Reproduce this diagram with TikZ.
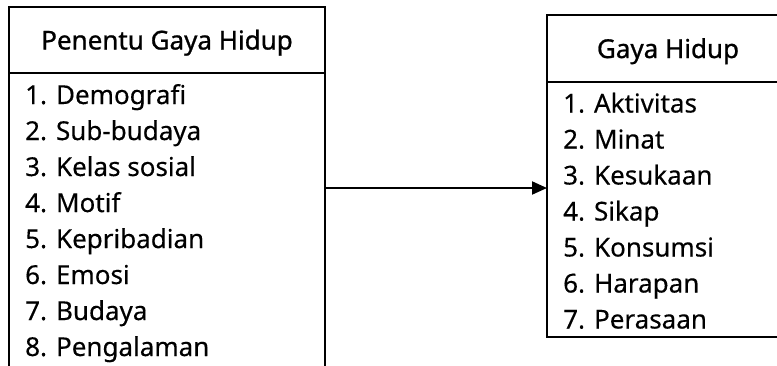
\documentclass[tikz,border=0pt]{standalone}
\usepackage{fontspec}
\setmainfont[FakeBold=0.3]{Noto Sans}
\newfontfamily\headfont[FakeBold=0.9]{Noto Sans}
\usetikzlibrary{arrows.meta}

\tikzset{
  box/.style={draw, line width=2bp, rectangle, inner sep=0pt, outer sep=0pt},
  head/.style={box, text height=19bp, text depth=0bp,
               font=\headfont\fontsize{26bp}{36bp}\selectfont},
  item/.style={anchor=base west, inner sep=0pt},
  link/.style={line width=2bp, -{Triangle[length=15bp,width=13bp]}},
}

\begin{document}
\begin{tikzpicture}[x=1bp, y=-1bp, font=\fontsize{26bp}{36bp}\selectfont]
\useasboundingbox (0,0) rectangle (777,365);
\clip (0,0) rectangle (777,365);

% determinants of lifestyle (column runs past the lower edge)
\node[head, minimum width=316bp, minimum height=66bp] (lhead) at (167,40) {Penentu Gaya Hidup};
\node[box, minimum width=316bp, minimum height=312bp] (llist) at (167,229) {};
\foreach \t [count=\i] in {Demografi, Sub-budaya, Kelas sosial, Motif,
                           Kepribadian, Emosi, Budaya, Pengalaman}
  \node[item] (l\i) at (25, {104+36*(\i-1)}) {\i. \t};

% lifestyle (column runs past the right edge)
\node[head, minimum width=242bp, minimum height=67bp] (rhead) at (668,48.5) {Gaya Hidup};
\node[box, minimum width=242bp, minimum height=255bp] (rlist) at (668,209.5) {};
\foreach \t [count=\i] in {Aktivitas, Minat, Kesukaan, Sikap,
                           Konsumsi, Harapan, Perasaan}
  \node[item] (r\i) at (563, {112.5+36*(\i-1)}) {\i. \t};

% influence arrow
\draw[link] (llist.east |- 0,188) -- (rlist.west |- 0,188);
\end{tikzpicture}
\end{document}
